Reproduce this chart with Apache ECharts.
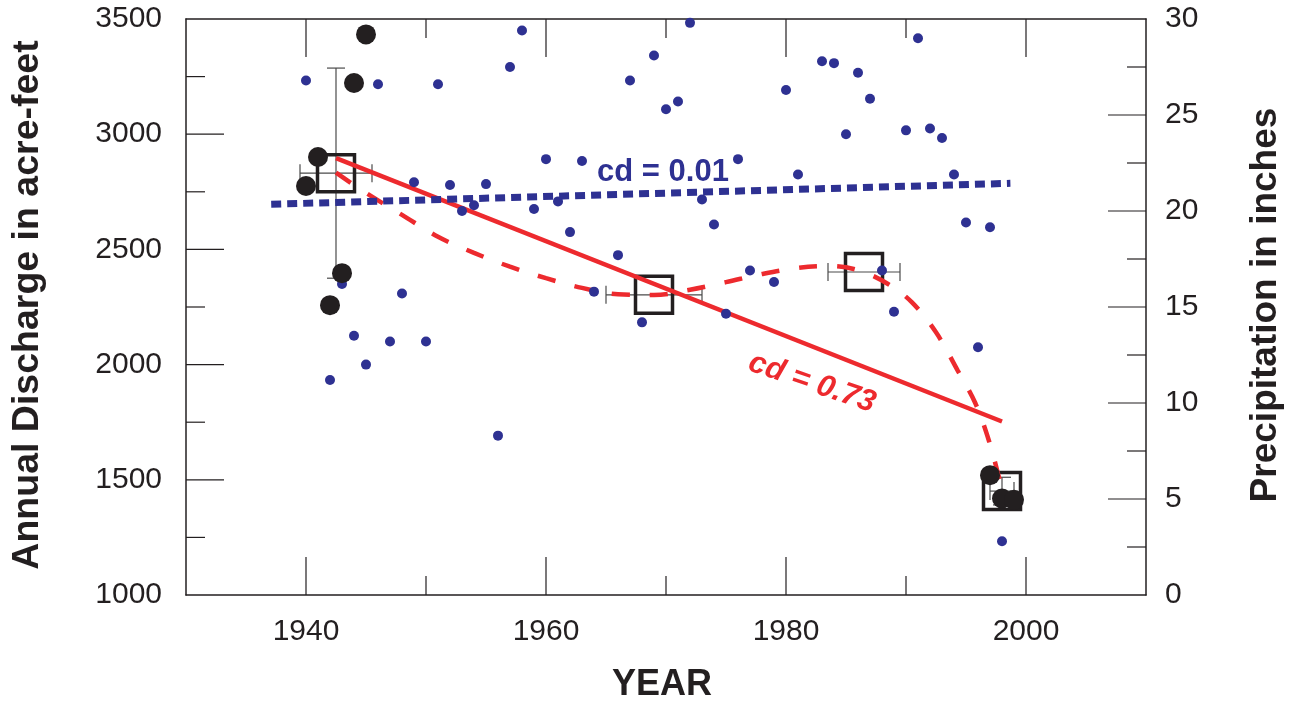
<!DOCTYPE html>
<html>
<head>
<meta charset="utf-8">
<script src="https://cdn.jsdelivr.net/npm/echarts@6/dist/echarts.min.js"></script>
<style>
html,body{margin:0;padding:0;background:#fff;}
#chart{width:1294px;height:703px;}
</style>
</head>
<body>
<div id="chart"></div>
<script>
// ---- data ----
const precipYears  = [1940,1942,1943,1944,1945,1946,1947,1948,1949,1950,1951,1952,1953,1954,1955,1956,1957,1958,1959,1960,1961,1962,1963,1964,1966,1967,1968,1969,1970,1971,1972,1973,1974,1975,1976,1977,1979,1980,1981,1983,1984,1985,1986,1987,1988,1989,1990,1991,1992,1993,1994,1995,1996,1997,1998];
const precipInches = [26.8,11.2,16.2,13.5,12.0,26.6,13.2,15.7,21.5,13.2,26.6,21.35,20.0,20.3,21.4,8.3,27.5,29.4,20.1,22.7,20.5,18.9,22.6,15.8,17.7,26.8,14.2,28.1,25.3,25.7,29.8,20.6,19.3,14.65,22.7,16.9,16.3,26.3,21.9,27.8,27.7,24.0,27.2,25.85,16.9,14.75,24.2,29.0,24.3,23.8,21.9,19.4,12.9,19.15,2.8];

const dischargeYears = [1940,1941,1942,1943,1944,1945,1997,1998,1999];
const discharge      = [2775,2901,2258,2397,3222,3433,1520,1419,1413];

// group means (open squares) with +/- 1 sd error bars
const boxYear   = [1942.5,1969,1986.5,1998];
const boxMean   = [2831,2303,2402,1451];
const boxYearSd = [3,4,3,1];
const boxMeanSd = [456,0,0,60];

// linear trend of discharge (cd = 0.73)
const dischargeTrendYears = [1942.5,1998];
const dischargeTrend      = [2896,1753];

// smoothed discharge curve (dashed)
const smoothYears = [1942.5,1945,1948,1951,1954,1957,1960,1963,1966,1969,1972,1975,1978,1981,1983.5,1986,1988.5,1990.5,1992.5,1994.3,1995.8,1997,1997.7,1998.05];
const smoothDischarge = [2833,2745,2650,2555,2485,2425,2375,2333,2305,2302,2325,2358,2393,2420,2428,2410,2350,2270,2140,1975,1830,1655,1520,1455];

// precipitation trend (cd = 0.01)
const precipTrendYears = [1937.1,1998.7];
const precipTrend      = [20.35,21.44];

// tick values
const majorYearTicks = [1940,1960,1980,2000];
const minorYearTicks = [1950,1970,1990];
const dischargeMajorTicks = [1500,2000,2500,3000];
const dischargeMinorTicks = [1250,1750,2250,2750,3250];
const precipMajorTicks = [5,10,15,20,25];
const precipMinorTicks = [2.5,7.5,12.5,17.5,22.5,27.5];

const zip = (a,b) => a.map((v,i)=>[v,b[i]]);

const INK = '#231F20', BLUE = '#2E3192', RED = '#ED2A2E';
const FONT = '"Liberation Sans", Arial, Helvetica, sans-serif';
const MAJOR = 38, MINOR = 19;
const TICKFONT = 30;

const chart = echarts.init(document.getElementById('chart'), null, {renderer:'canvas'});

const tickStyle = {stroke:INK, lineWidth:1.2};

function tickSeries(kind, values, len, yAxisIndex){
  return {
    type:'custom', xAxisIndex:0, yAxisIndex:yAxisIndex, z:1, silent:true, clip:false,
    data: values.map(v=>[v]),
    renderItem(params, api){
      const cs = params.coordSys;
      const v = api.value(0);
      if (kind === 'x'){
        const px = api.coord([v, yAxisIndex===0 ? 2000 : 10])[0];
        const b = cs.y + cs.height, t = cs.y;
        return {type:'group', children:[
          {type:'line', shape:{x1:px,y1:b,x2:px,y2:b-len}, style:tickStyle},
          {type:'line', shape:{x1:px,y1:t,x2:px,y2:t+len}, style:tickStyle}
        ]};
      }
      const py = api.coord([1970, v])[1];
      if (kind === 'left'){
        return {type:'line', shape:{x1:cs.x,y1:py,x2:cs.x+len,y2:py}, style:tickStyle};
      }
      const r = cs.x + cs.width;
      return {type:'line', shape:{x1:r,y1:py,x2:r-len,y2:py}, style:tickStyle};
    }
  };
}

function xAx(pos, showLabel){
  return {
    type:'value', position: pos, min:1930, max:2010,
    axisLine:{show:true, onZero:false, lineStyle:{color:INK, width:1.5}},
    axisTick:{show:false},
    axisLabel:{show:showLabel, customValues:majorYearTicks, formatter:v=>String(v),
               fontSize:TICKFONT, color:INK, fontFamily:FONT, margin:22},
    splitLine:{show:false}
  };
}

const option = {
  backgroundColor:'#fff',
  animation:false,
  grid:{left:186, right:148, top:19, bottom:108, containLabel:false},
  xAxis:[ xAx('bottom', true), xAx('top', false) ],
  yAxis:[
    {type:'value', position:'left', min:1000, max:3500, interval:500,
     axisLine:{show:true, onZero:false, lineStyle:{color:INK, width:1.5}},
     axisTick:{show:false},
     axisLabel:{fontSize:TICKFONT, color:INK, fontFamily:FONT, margin:24, formatter:v=>String(v)},
     splitLine:{show:false}},
    {type:'value', position:'right', min:0, max:30, interval:5,
     axisLine:{show:true, onZero:false, lineStyle:{color:INK, width:1.5}},
     axisTick:{show:false},
     axisLabel:{fontSize:TICKFONT, color:INK, fontFamily:FONT, margin:19, formatter:v=>String(v)},
     splitLine:{show:false}}
  ],
  series:[
    tickSeries('x', majorYearTicks, MAJOR, 0),
    tickSeries('x', minorYearTicks, MINOR, 0),
    tickSeries('left', dischargeMajorTicks, MAJOR, 0),
    tickSeries('left', dischargeMinorTicks, MINOR, 0),
    tickSeries('right', precipMajorTicks, MAJOR, 1),
    tickSeries('right', precipMinorTicks, MINOR, 1),
    {
      type:'custom', name:'group means', xAxisIndex:0, yAxisIndex:0, z:2,
      data: boxYear.map((y,i)=>[y, boxMean[i], boxYearSd[i], boxMeanSd[i]]),
      renderItem(params, api){
        const x = api.value(0), y = api.value(1), xs = api.value(2), ys = api.value(3);
        const c = api.coord([x,y]);
        const kids = [];
        const eb = {stroke:'#4a4a4a', lineWidth:1.2};
        const cap = 9;
        if (xs > 0){
          const p1 = api.coord([x-xs,y]), p2 = api.coord([x+xs,y]);
          kids.push({type:'line', shape:{x1:p1[0],y1:p1[1],x2:p2[0],y2:p2[1]}, style:eb});
          kids.push({type:'line', shape:{x1:p1[0],y1:p1[1]-cap,x2:p1[0],y2:p1[1]+cap}, style:eb});
          kids.push({type:'line', shape:{x1:p2[0],y1:p2[1]-cap,x2:p2[0],y2:p2[1]+cap}, style:eb});
        }
        if (ys > 0){
          const p1 = api.coord([x,y-ys]), p2 = api.coord([x,y+ys]);
          kids.push({type:'line', shape:{x1:p1[0],y1:p1[1],x2:p2[0],y2:p2[1]}, style:eb});
          kids.push({type:'line', shape:{x1:p1[0]-cap,y1:p1[1],x2:p1[0]+cap,y2:p1[1]}, style:eb});
          kids.push({type:'line', shape:{x1:p2[0]-cap,y1:p2[1],x2:p2[0]+cap,y2:p2[1]}, style:eb});
        }
        const s = 37;
        kids.push({type:'rect', shape:{x:c[0]-s/2, y:c[1]-s/2, width:s, height:s},
                   style:{fill:'none', stroke:INK, lineWidth:3.5}});
        return {type:'group', children:kids};
      }
    },
    {
      type:'line', name:'trend', xAxisIndex:0, yAxisIndex:0, z:3,
      data: zip(dischargeTrendYears, dischargeTrend), showSymbol:false, symbol:'none',
      lineStyle:{color:RED, width:4.5}
    },
    {
      type:'line', name:'smooth', xAxisIndex:0, yAxisIndex:0, z:3,
      data: zip(smoothYears, smoothDischarge), showSymbol:false, symbol:'none', smooth:0.35,
      lineStyle:{color:RED, width:4.5, type:[18,20], cap:'butt'}
    },
    {
      type:'line', name:'precip trend', xAxisIndex:0, yAxisIndex:1, z:4,
      data: zip(precipTrendYears, precipTrend), showSymbol:false, symbol:'none',
      lineStyle:{color:BLUE, width:7, type:[10,6], cap:'butt'}
    },
    {
      type:'scatter', name:'precipitation', xAxisIndex:0, yAxisIndex:1, z:5,
      data: zip(precipYears, precipInches), symbolSize:10,
      itemStyle:{color:BLUE, opacity:1}
    },
    {
      type:'scatter', name:'discharge', xAxisIndex:0, yAxisIndex:0, z:6,
      data: zip(dischargeYears, discharge), symbolSize:20,
      itemStyle:{color:INK, opacity:1}
    }
  ],
  graphic:[
    {type:'text', x:28, y:305, rotation:Math.PI/2,
     style:{text:'Annual Discharge in acre-feet', x:0, y:0, align:'center', verticalAlign:'middle', fill:INK, font:'bold 37.5px '+FONT}},
    {type:'text', x:1266, y:305, rotation:Math.PI/2,
     style:{text:'Precipitation in inches', x:0, y:0, align:'center', verticalAlign:'middle', fill:INK, font:'bold 37px '+FONT}},
    {type:'text', x:662, y:685,
     style:{text:'YEAR', x:0, y:0, align:'center', verticalAlign:'middle', fill:INK, font:'bold 36px '+FONT}},
    {type:'text', x:663, y:172, z:10,
     style:{text:'cd = 0.01', x:0, y:0, align:'center', verticalAlign:'middle', fill:BLUE, font:'bold 31px '+FONT}},
    {type:'text', x:812, y:383, rotation:-0.33, z:10,
     style:{text:'cd = 0.73', x:0, y:0, align:'center', verticalAlign:'middle', fill:RED, font:'italic bold 31px '+FONT}}
  ]
};
chart.setOption(option);
</script>
</body>
</html>
